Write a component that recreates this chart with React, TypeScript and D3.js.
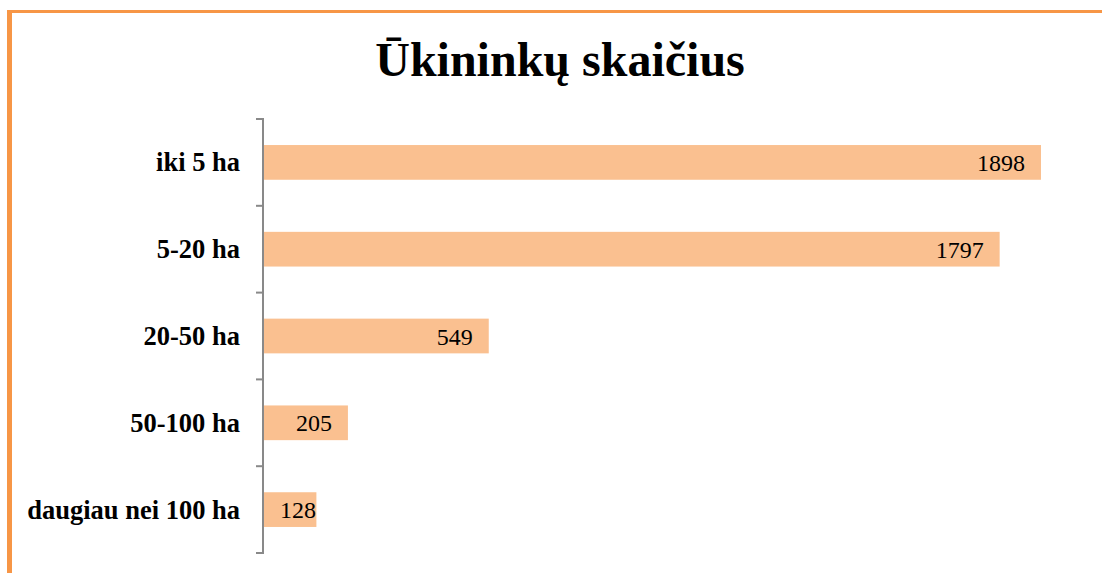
import React from "react";
import * as d3 from "d3";

const categories = ["iki 5 ha", "5-20 ha", "20-50 ha", "50-100 ha", "daugiau nei 100 ha"];
const values = [1898, 1797, 549, 205, 128];
const title = "Ūkininkų skaičius";

const W = 1102;
const H = 573;
const FONT = "'Liberation Serif', 'Times New Roman', serif";

export default function App() {
  const x0 = 264;
  const x = d3.scaleLinear().domain([0, 1898]).range([x0, 1041]);
  const y = d3.scaleBand().domain(categories).range([119, 553]).paddingInner(0.6).paddingOuter(0.3);
  const step = (553 - 119) / categories.length;
  const ticks = d3.range(categories.length + 1).map((i) => 119 + i * step);
  const digitW = 12;

  return (
    <svg width={W} height={H} style={{ position: "fixed", left: 0, top: 0, background: "#fff" }}>
      <rect x={0} y={0} width={W} height={H} fill="#fff" />
      <line x1={9.5} y1={10} x2={9.5} y2={H} stroke="#F79646" strokeWidth={5} />
      <line x1={7} y1={11.5} x2={W} y2={11.5} stroke="#F79646" strokeWidth={3} />
      <text x={560} y={76} textAnchor="middle" fontFamily={FONT} fontWeight="bold" fontSize={48} fill="#000">
        {title}
      </text>
      {categories.map((c, i) => {
        const by = y(c)!;
        const bh = y.bandwidth();
        const end = x(values[i]);
        const label = String(values[i]);
        const tw = label.length * digitW;
        const lx = Math.max(end - 16, x0 + 16 + tw);
        return (
          <g key={c}>
            <rect x={x0} y={by} width={end - x0} height={bh} fill="#FAC090" />
            <text x={lx} y={by + bh / 2 + 8.5} textAnchor="end" fontFamily={FONT} fontSize={24} fill="#000">
              {label}
            </text>
            <text x={240} y={by + bh / 2 + 9} textAnchor="end" fontFamily={FONT} fontWeight="bold" fontSize={26.5} fill="#000">
              {c}
            </text>
          </g>
        );
      })}
      <line x1={263} y1={119} x2={263} y2={553} stroke="#898989" strokeWidth={2} />
      {ticks.map((t, i) => (
        <line key={i} x1={256} y1={t} x2={264} y2={t} stroke="#898989" strokeWidth={2} />
      ))}
    </svg>
  );
}
